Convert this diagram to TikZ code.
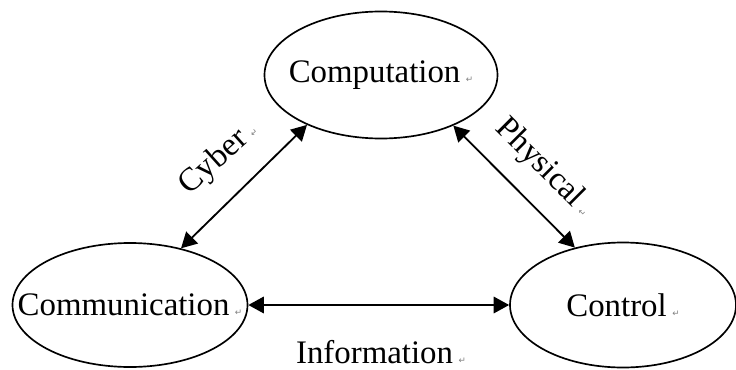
\documentclass[tikz,border=0pt]{standalone}
\usepackage{fontspec}
\setmainfont{Liberation Serif}
\newfontfamily\symfont{DejaVu Sans}
\usetikzlibrary{arrows.meta,shapes.geometric}

\newcommand{\wdret}{\,{\symfont\fontsize{5}{6}\selectfont\color{gray}↵}}

\tikzset{
    sys/.style={draw, ellipse, line width=0.95pt, inner sep=0pt},
    link/.style={{Triangle[length=3.1mm,width=3.3mm]}-{Triangle[length=3.1mm,width=3.3mm]},
        line width=1.05pt},
    tag/.style={font=\fontsize{18.7}{22}\selectfont, inner sep=0pt},
}

\begin{document}
\begin{tikzpicture}

    \useasboundingbox (0,0) rectangle (14.72,7.38);

    % the three C's
    \node[sys, minimum width=4.66cm, minimum height=2.54cm,
        label={[tag, name=compt]center:Computation\wdret}] (comp) at (7.62,5.88) {};
    \node[sys, minimum width=4.70cm, minimum height=2.48cm,
        label={[tag, name=commt]center:Communication\wdret}] (comm) at (2.60,1.28) {};
    \node[sys, minimum width=4.52cm, minimum height=2.50cm,
        label={[tag, name=ctrlt]center:Control\wdret}] (ctrl) at (12.46,1.28) {};

    % links
    \draw[link] (comm.48) to (comp.214); % cyber
    \draw[link] (comp.325) to (ctrl.130); % physical
    \draw[link] (comm.east) to (ctrl.west); % information

    \node[tag, rotate=42] (cyber) at (4.38,4.22) {Cyber\wdret};
    \node[tag, rotate=-45] (phys) at (10.88,4.02) {Physical\wdret};
    \node[tag] (info) at (7.62,0.33) {Information\wdret};

\end{tikzpicture}
\end{document}
